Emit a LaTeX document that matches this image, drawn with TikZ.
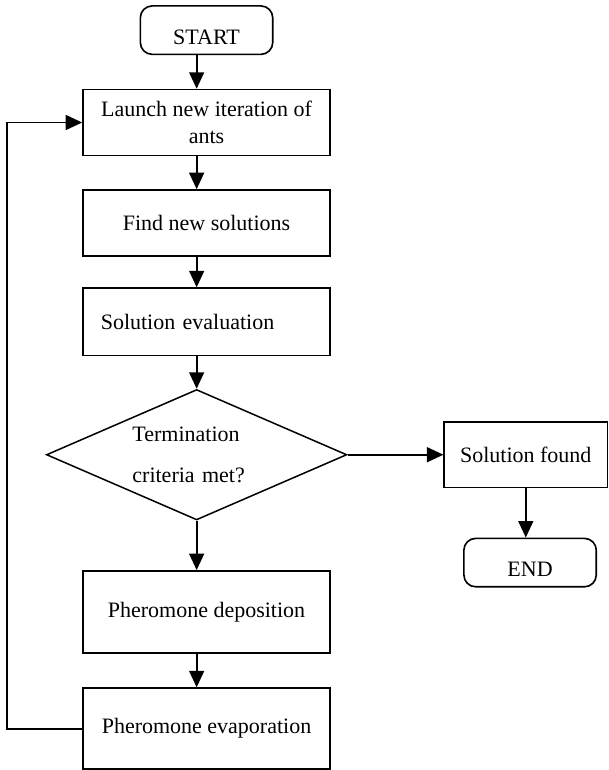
\documentclass[tikz,border=0pt]{standalone}
\usepackage{fontspec}
\setmainfont{Liberation Serif}
\usetikzlibrary{shapes.geometric, arrows.meta, positioning}

\begin{document}
\begin{tikzpicture}[node distance=1cm, >={Triangle[length=0.5cm, width=0.45cm]}]
    \tikzstyle{terminal} = [rectangle, draw, line width=1.4pt, rounded corners=0.36cm, minimum width=4.02cm, minimum height=1.47cm, text height=0.86cm, text depth=0pt, font=\fontsize{19}{23}\selectfont]
    \tikzstyle{block} = [rectangle, draw, line width=1.4pt, minimum width=7.5cm, minimum height=2cm, text centered, font=\fontsize{19}{23}\selectfont]
    \tikzstyle{decision} = [diamond, draw, line width=1.3pt, shape aspect=2.3, minimum width=9.12cm, minimum height=3.96cm, inner sep=0pt, font=\fontsize{19}{23}\selectfont]
    \tikzstyle{line} = [line width=1.7pt]

    \path [fill=white] (0,0) rectangle (18.42,-23.1);

    \node [terminal] (start) at (6.27,-0.915) {START};
    \node [block, below=1.02cm of start, align=center] (launch) {Launch new iteration of\\ants};
    \node [block, below=of launch] (find) {Find new solutions};
    \node [block, below=0.93cm of find, minimum height=2.04cm, text width=6.42cm, align=left] (eval) {Solution evaluation};
    \node [decision, below=0.99cm of eval, xshift=-0.3cm, text width=3.9cm, align=left] (test) {Termination\\[0.45cm]criteria met?};
    \node [block, below=1.5cm of test, xshift=0.3cm, minimum height=2.49cm] (depo) {Pheromone deposition};
    \node [block, below=1.02cm of depo, minimum height=2.46cm] (evap) {Pheromone evaporation};

    \node [block, right=2.91cm of test, minimum width=4.95cm, minimum height=1.98cm] (found) {Solution found};
    \node [terminal, below=1.5cm of found, xshift=0.13cm] (end) {END};

    \draw [->, line] (start.south -| test) -- (launch.north -| test);
    \draw [->, line] (launch.south -| test) -- (find.north -| test);
    \draw [->, line] (find.south -| test) -- (eval.north -| test);
    \draw [->, line] (eval.south -| test) -- (test.north);
    \draw [->, line] (test.south) -- (depo.north -| test);
    \draw [->, line] (depo.south -| test) -- (evap.north -| test);
    \draw [->, line] (test.east) -- (found.west);
    \draw [->, line] (found.south) -- (found.south |- end.north);

    % back to the next iteration
    \coordinate (back) at ([xshift=-2.28cm]evap.west);
    \draw [->, line] (evap.west) -- (back) |- (launch.west);
\end{tikzpicture}
\end{document}
